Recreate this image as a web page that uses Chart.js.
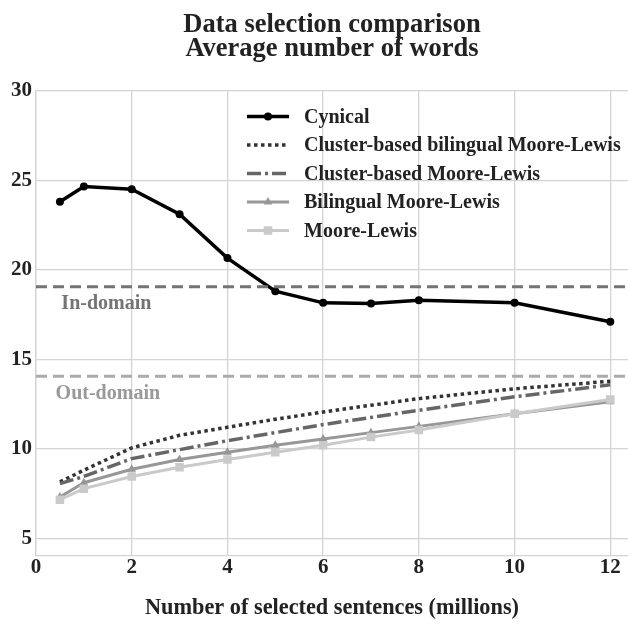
<!DOCTYPE html>
<html>
<head>
<meta charset="utf-8">
<script src="https://cdn.jsdelivr.net/npm/chart.js@4.4.1/dist/chart.umd.min.js"></script>
<style>
  html, body { margin: 0; padding: 0; background: #fff; }
  #wrap { width: 628px; height: 625px; }
</style>
</head>
<body>
<div id="wrap"><canvas id="c" width="628" height="625"></canvas></div>
<script>
// data
const sentences = [0.5, 1, 2, 3, 4, 5, 6, 7, 8, 10, 12];
const cynical = [23.8, 24.65, 24.5, 23.1, 20.65, 18.8, 18.15, 18.12, 18.3, 18.15, 17.1];
const clusterBilingualML = [8.15, 8.8, 10.05, 10.75, 11.2, 11.65, 12.05, 12.43, 12.8, 13.35, 13.77];
const clusterML = [8.05, 8.45, 9.45, 9.95, 10.45, 10.9, 11.35, 11.75, 12.15, 12.9, 13.57];
const bilingualML = [7.3, 8.1, 8.85, 9.4, 9.8, 10.2, 10.55, 10.9, 11.25, 11.95, 12.62];
const mooreLewis = [7.15, 7.77, 8.45, 8.97, 9.4, 9.8, 10.2, 10.65, 11.05, 11.95, 12.75];
const inDomain = 19.05;
const outDomain = 14.05;
const xRange = [0, 12.37];
const yRange = [4, 30];
const xTicks = [0, 2, 4, 6, 8, 10, 12];
const yTicks = [5, 10, 15, 20, 25, 30];

const serif = "'Liberation Serif', 'DejaVu Serif', serif";
const pts = (ys) => sentences.map((x, i) => ({x: x, y: ys[i]}));
const flat = (y) => xRange.map(x => ({x: x, y: y}));

const datasets = [
  {label: "In-domain", data: flat(inDomain), borderColor: "#747474", borderWidth: 3,
   borderDash: [11, 6], pointRadius: 0, inLegend: false},
  {label: "Out-domain", data: flat(outDomain), borderColor: "#ababab", borderWidth: 3,
   borderDash: [11, 6], pointRadius: 0, inLegend: false},
  {label: "Moore-Lewis", data: pts(mooreLewis), borderColor: "#cacaca", backgroundColor: "#cacaca",
   borderWidth: 3, pointStyle: "rect", pointRadius: 6, inLegend: true},
  {label: "Bilingual Moore-Lewis", data: pts(bilingualML), borderColor: "#979797", backgroundColor: "#979797",
   borderWidth: 3, pointStyle: "triangle", pointRadius: 5, inLegend: true},
  {label: "Cluster-based Moore-Lewis", data: pts(clusterML), borderColor: "#666", borderWidth: 3.5,
   borderDash: [14, 4, 3, 4], pointRadius: 0, inLegend: true},
  {label: "Cluster-based bilingual Moore-Lewis", data: pts(clusterBilingualML), borderColor: "#333", borderWidth: 3.5,
   borderDash: [3.5, 3.5], pointRadius: 0, inLegend: true},
  {label: "Cynical", data: pts(cynical), borderColor: "#000", backgroundColor: "#000",
   borderWidth: 3.5, pointStyle: "circle", pointRadius: 4, inLegend: true}
];
datasets.forEach(d => { d.tension = 0; d.pointBorderWidth = 0; d.pointHoverRadius = d.pointRadius; });

// legend inside the plot + labels on the reference lines
const overlay = {
  id: "overlay",
  afterDatasetsDraw(chart) {
    const ctx = chart.ctx;
    const xs = chart.scales.x, ys = chart.scales.y;
    ctx.save();
    ctx.font = "bold 20px " + serif;
    ctx.textBaseline = "middle";
    ctx.textAlign = "left";
    ctx.fillStyle = "#747474";
    ctx.fillText("In-domain", xs.getPixelForValue(0.53), ys.getPixelForValue(18.1));
    ctx.fillStyle = "#999";
    ctx.fillText("Out-domain", xs.getPixelForValue(0.41), ys.getPixelForValue(13.05));

    const items = chart.data.datasets.filter(d => d.inLegend).reverse();
    const x0 = 247, x1 = 289, tx = 304;
    items.forEach((d, i) => {
      const y = 116.5 + i * 28.5;
      ctx.strokeStyle = d.borderColor;
      ctx.lineWidth = d.borderWidth;
      ctx.setLineDash(d.borderDash || []);
      ctx.beginPath();
      ctx.moveTo(x0, y);
      ctx.lineTo(x1, y);
      ctx.stroke();
      ctx.setLineDash([]);
      if (d.pointRadius > 0) {
        ctx.fillStyle = d.backgroundColor;
        Chart.helpers.drawPoint(ctx, {pointStyle: d.pointStyle, radius: d.pointRadius, rotation: 0, borderWidth: 0},
          (x0 + x1) / 2, y);
      }
      ctx.fillStyle = "#222";
      ctx.fillText(d.label, tx, y + 1);
    });
    ctx.restore();
  }
};

const noPad = s => { s.paddingLeft = 0; s.paddingRight = 0; s.paddingTop = 0; s.paddingBottom = 0; };

new Chart(document.getElementById("c"), {
  type: "line",
  data: {datasets: datasets},
  plugins: [overlay],
  options: {
    responsive: false,
    animation: false,
    layout: {autoPadding: false, padding: {left: 7, right: 0, top: 0, bottom: 0}},
    plugins: {
      legend: {display: false},
      tooltip: {enabled: false},
      title: {
        display: true,
        fullSize: false,
        text: ["Data selection comparison", "Average number of words"],
        color: "#222",
        font: {family: serif, size: 26.5, weight: "bold", lineHeight: 0.92},
        padding: {top: 13, bottom: 29}
      }
    },
    scales: {
      x: {
        type: "linear",
        min: xRange[0], max: xRange[1],
        afterBuildTicks: s => { s.ticks = xTicks.map(v => ({value: v})); },
        afterFit: noPad,
        grid: {color: "#d4d4d4", lineWidth: 1.3, drawTicks: false},
        border: {color: "#d4d4d4", width: 1.3},
        ticks: {color: "#222", padding: 1, maxRotation: 0, font: {family: serif, size: 21, weight: "bold", lineHeight: 1}},
        title: {
          display: true, text: "Number of selected sentences (millions)", color: "#222",
          font: {family: serif, size: 22.3, weight: "bold", lineHeight: 1.2}, padding: {top: 15.5, bottom: 3.6}
        }
      },
      y: {
        min: yRange[0], max: yRange[1],
        afterBuildTicks: s => { s.ticks = yTicks.map(v => ({value: v})); },
        afterFit: noPad,
        grid: {color: "#d4d4d4", lineWidth: 1.3, drawTicks: false},
        border: {color: "#d4d4d4", width: 1.3},
        ticks: {color: "#222", padding: 4, font: {family: serif, size: 21, weight: "bold"}}
      }
    }
  }
});
</script>
</body>
</html>
